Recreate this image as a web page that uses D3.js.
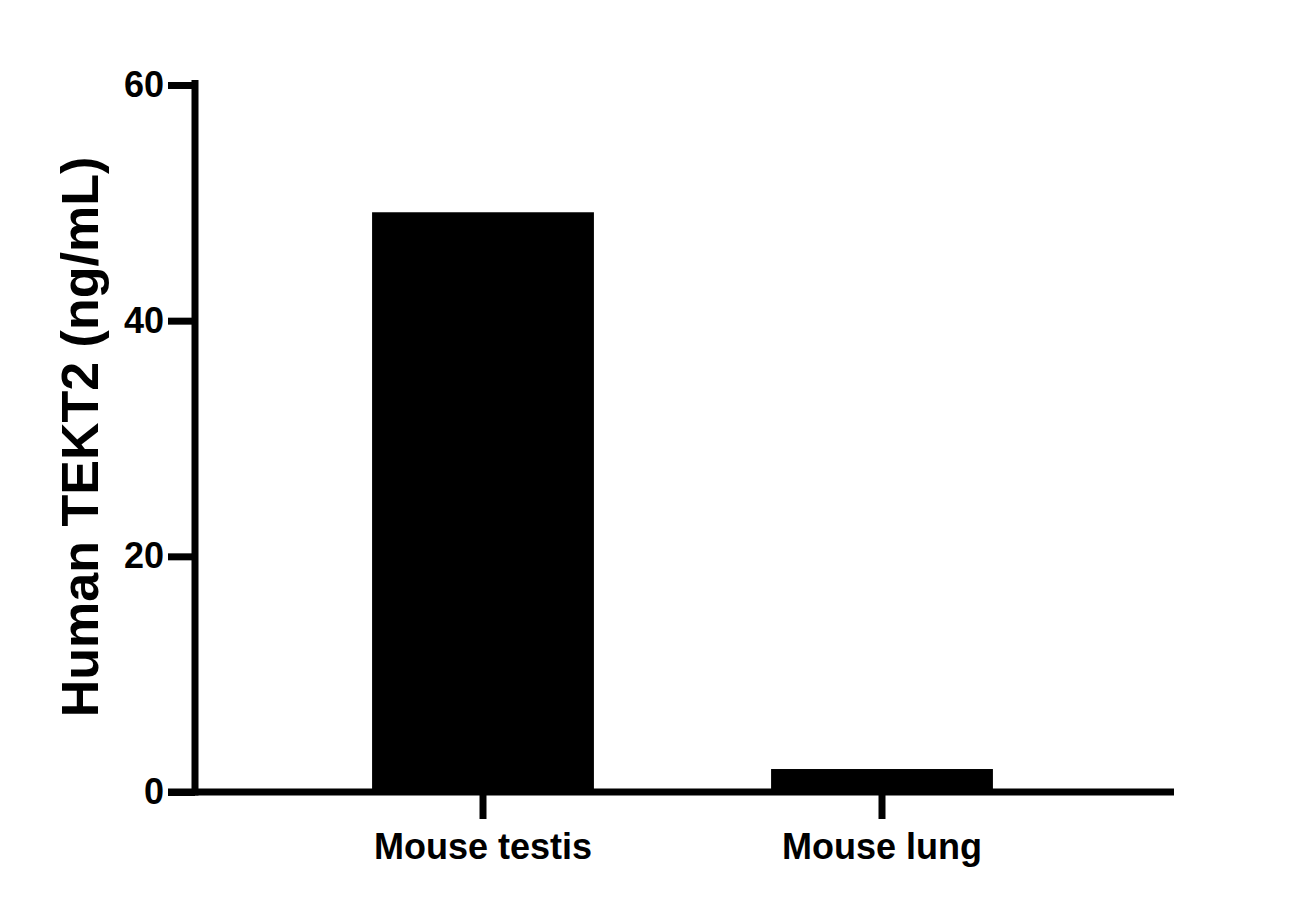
<!DOCTYPE html>
<html><head><meta charset="utf-8">
<script src="https://cdn.jsdelivr.net/npm/d3@7"></script>
<style>body{margin:0;background:#fff}</style></head>
<body><svg id="c" width="1308" height="913"></svg>
<script>
var categories = ["Mouse testis", "Mouse lung"]
var values = [49.2, 1.95]
var yTicks = [0, 20, 40, 60]

var svg = d3.select("#c")
var font = "'Liberation Sans', Arial, sans-serif"
var y = d3.scaleLinear().domain([0, 60]).range([792, 85])
var x = d3.scaleBand().domain(categories).range([283.5, 1081.5])
    .paddingInner(0.444).paddingOuter(0.222)

svg.selectAll("rect.bar").data(values).enter().append("rect")
    .attr("class", "bar")
    .attr("x", function(d, i) { return x(categories[i]) })
    .attr("width", x.bandwidth())
    .attr("y", function(d) { return y(d) })
    .attr("height", function(d) { return y(0) - y(d) })
    .attr("fill", "#000")

var ya = svg.append("g").attr("transform", "translate(195,0)")
    .call(d3.axisLeft(y).tickValues(yTicks).tickSize(27).tickPadding(4).tickSizeOuter(0))
ya.select(".domain").attr("stroke-width", 7).attr("d", "M0,80V795.5")
ya.selectAll(".tick line").attr("stroke-width", 7)
ya.selectAll("text").attr("font-family", font).attr("font-weight", "bold").attr("font-size", 36).attr("fill", "#000")

var xa = svg.append("g").attr("transform", "translate(0,792)")
    .call(d3.axisBottom(x).tickSize(27).tickPadding(14).tickSizeOuter(0))
xa.select(".domain").attr("stroke-width", 7).attr("d", "M168,0H1174")
xa.selectAll(".tick line").attr("stroke-width", 7)
xa.selectAll("text").attr("font-family", font).attr("font-weight", "bold").attr("font-size", 36).attr("fill", "#000")

svg.append("text")
    .attr("transform", "translate(98,437) rotate(-90)")
    .attr("text-anchor", "middle")
    .attr("font-family", font).attr("font-weight", "bold").attr("font-size", 52)
    .text("Human TEKT2 (ng/mL)")
</script></body></html>
